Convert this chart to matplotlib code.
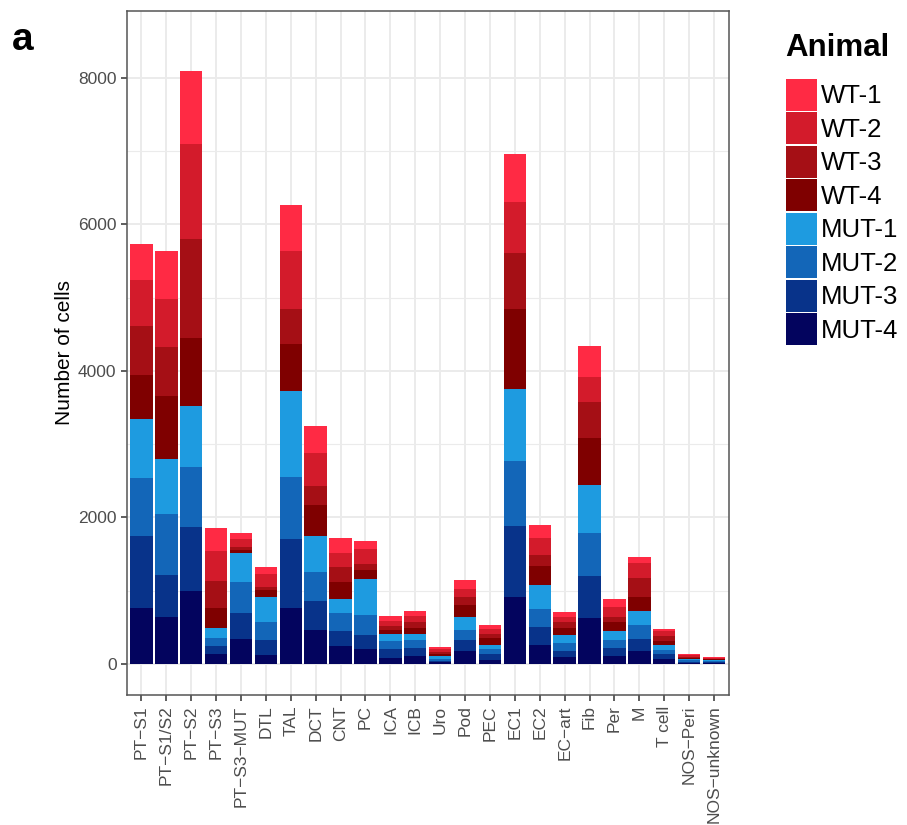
import matplotlib
matplotlib.use("Agg")
import matplotlib.pyplot as plt
import numpy as np

plt.rcParams['font.family'] = ['Liberation Sans', 'DejaVu Sans']

cell_types = ['PT-S1', 'PT-S1/S2', 'PT-S2', 'PT-S3', 'PT-S3-MUT', 'DTL', 'TAL', 'DCT',
              'CNT', 'PC', 'ICA', 'ICB', 'Uro', 'Pod', 'PEC', 'EC1', 'EC2', 'EC-art',
              'Fib', 'Per', 'M', 'T cell', 'NOS-Peri', 'NOS-unknown']
tick_labels = [c.replace('-', '\u2212') for c in cell_types]

# cell counts per animal, stacked bottom (MUT-4) to top (WT-1)
mut4 = [770, 646, 1002, 135, 345, 119, 770, 469, 241, 205, 82, 114, 23, 182, 61, 921, 254, 94, 634, 103, 174, 70, 14, 14]
mut3 = [975, 571, 867, 113, 345, 204, 932, 393, 214, 195, 123, 109, 22, 141, 71, 963, 249, 89, 569, 118, 169, 62, 19, 19]
mut2 = [798, 825, 814, 108, 425, 248, 857, 393, 237, 273, 105, 105, 23, 137, 70, 888, 244, 104, 582, 103, 183, 61, 19, 14]
mut1 = [797, 759, 840, 129, 404, 345, 1169, 490, 191, 487, 104, 86, 46, 186, 61, 982, 338, 103, 653, 122, 197, 61, 18, 9]
wt4 = [609, 862, 927, 280, 43, 97, 646, 421, 241, 127, 54, 82, 22, 164, 94, 1090, 249, 103, 649, 127, 188, 61, 15, 10]
wt3 = [668, 668, 1346, 366, 33, 43, 469, 258, 196, 74, 55, 82, 32, 109, 56, 761, 151, 75, 483, 71, 259, 70, 14, 9]
wt2 = [630, 652, 1299, 415, 113, 178, 797, 453, 195, 205, 60, 77, 37, 105, 61, 700, 230, 76, 353, 136, 206, 61, 18, 10]
wt1 = [490, 652, 1002, 307, 80, 91, 625, 377, 209, 117, 68, 64, 27, 127, 57, 657, 178, 70, 423, 108, 90, 38, 19, 9]

animals = ['MUT-4', 'MUT-3', 'MUT-2', 'MUT-1', 'WT-4', 'WT-3', 'WT-2', 'WT-1']
counts = [mut4, mut3, mut2, mut1, wt4, wt3, wt2, wt1]
colors = ['#03045E', '#08338A', '#1366B8', '#1E9BE0',
          '#7F0000', '#A50F15', '#D31B2B', '#FF2A44']

fig = plt.figure(figsize=(9.07, 8.25), dpi=100)
ax = fig.add_axes([0.140, 0.1576, 0.6637, 0.8291])

x = np.arange(1, len(cell_types) + 1)
bottom = np.zeros(len(cell_types))
bars = {}
for name, vals, col in zip(animals, counts, colors):
    vals = np.array(vals, dtype=float)
    bars[name] = ax.bar(x, vals, width=0.9, bottom=bottom, color=col,
                        edgecolor='none', zorder=3)
    bottom += vals

ax.set_xlim(0.42, 24.6)
ax.set_ylim(-423, 8915)

# grey92 grid, theme_bw style
ax.set_yticks([0, 2000, 4000, 6000, 8000])
ax.set_yticks([1000, 3000, 5000, 7000], minor=True)
ax.grid(which='major', axis='y', color='#EBEBEB', lw=1.4, zorder=0)
ax.grid(which='minor', axis='y', color='#EBEBEB', lw=0.8, zorder=0)
ax.grid(which='major', axis='x', color='#EBEBEB', lw=1.4, zorder=0)
ax.tick_params(which='minor', length=0)

ax.set_xticks(x)
ax.set_xticklabels(tick_labels, rotation=90, ha='center', va='top')
ax.tick_params(axis='both', which='major', length=4.5, width=1.1, color='#333333',
               labelcolor='#4D4D4D', labelsize=12.5, pad=3)
for s in ax.spines.values():
    s.set_color('#555555')
    s.set_linewidth(1.1)

ax.set_ylabel('Number of cells', fontsize=15, color='black', labelpad=3)

fig.text(12 / 907, 1 - 40 / 825, 'a', fontsize=28, fontweight='bold', va='center', ha='left')

# legend: title drawn separately so the gap above the keys can be set
fig.text(785 / 907, 1 - 48 / 825, 'Animal', fontsize=22.5, fontweight='bold',
         ha='left', va='center')
handles = [bars[a] for a in animals[::-1]]
leg = fig.legend(handles, animals[::-1], loc='upper left',
                 bbox_to_anchor=(786 / 907, 1 - 79 / 825), frameon=False,
                 fontsize=18.5, handlelength=1.2, handleheight=1.52,
                 handletextpad=0.15, labelspacing=0.07, borderpad=0,
                 borderaxespad=0)

fig.savefig('out.png', dpi=100)
